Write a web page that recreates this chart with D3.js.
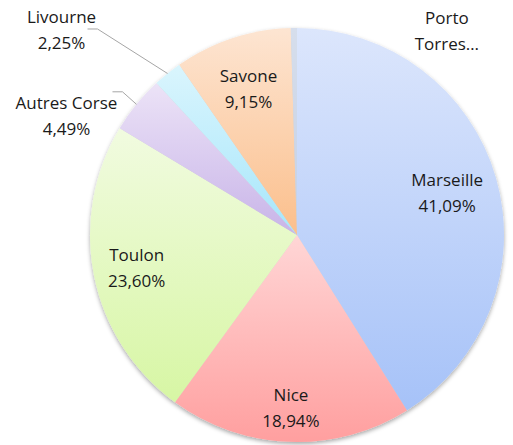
<!DOCTYPE html>
<html>
<head>
<meta charset="utf-8">
<script src="https://cdn.jsdelivr.net/npm/d3@7"></script>
<style>
  body { margin: 0; background: #fff; }
  svg text { font-family: "Open Sans", "Noto Sans", sans-serif; fill: #1a1a1a; }
</style>
</head>
<body>
<svg width="513" height="445"></svg>
<script>
// données (sens horaire depuis midi)
const ports = ["Marseille", "Nice", "Toulon", "Autres Corse", "Livourne", "Savone", "Porto Torres..."];
const parts = [41.09, 18.94, 23.60, 4.49, 2.25, 9.15, 0.48];
const shownLabels = ["41,09%", "18,94%", "23,60%", "4,49%", "2,25%", "9,15%", ""];
const colorsTop = ["#dce6fc", "#ffd6d6", "#f1fbe0", "#ece3f7", "#daf5fd", "#fde5d2", "#d6deec"];
const colorsBottom = ["#a6c2f8", "#ff9f9f", "#d7f6a4", "#c8b4e8", "#a6e6fb", "#fbbf8c", "#c5d0e4"];

const svg = d3.select("svg");
const cx = 297, cy = 235, R = 207;

const defs = svg.append("defs");
const shadow = defs.append("filter").attr("id", "shadow")
  .attr("x", "-10%").attr("y", "-10%").attr("width", "120%").attr("height", "125%");
shadow.append("feDropShadow")
  .attr("dx", 0).attr("dy", 2).attr("stdDeviation", 2)
  .attr("flood-color", "#000").attr("flood-opacity", 0.35);

ports.forEach((p, i) => {
  const g = defs.append("linearGradient").attr("id", "grad" + i)
    .attr("x1", 0).attr("y1", 0).attr("x2", 0).attr("y2", 1);
  g.append("stop").attr("offset", "0%").attr("stop-color", colorsTop[i]);
  g.append("stop").attr("offset", "100%").attr("stop-color", colorsBottom[i]);
});

const pie = d3.pie().sort(null).value((d) => d);
const arcs = pie(parts);
const arc = d3.arc().innerRadius(0).outerRadius(R);

const chart = svg.append("g").attr("transform", `translate(${cx},${cy})`);

chart.append("g").attr("filter", "url(#shadow)")
  .selectAll("path")
  .data(arcs)
  .enter()
  .append("path")
  .attr("d", arc)
  .attr("fill", (d, i) => `url(#grad${i})`);

// étiquettes intérieures (rayon relatif, façon "ajustement optimal")
const inside = { 0: 0.755, 1: 0.83, 2: 0.79, 5: 0.75 };
// étiquettes extérieures : décalage depuis le bord de la part, départ du trait
const outside = {
  3: { dx: -70, dy: 11, line: [46, -23.5] },
  4: { dx: -106, dy: -45, line: [26, 0.5] },
  6: { dx: 153, dy: 2, line: null },
};

const labels = chart.append("g");
arcs.forEach((d, i) => {
  const mid = (d.startAngle + d.endAngle) / 2;
  let x, y;
  if (inside[i] !== undefined) {
    const r = R * inside[i];
    x = r * Math.sin(mid);
    y = -r * Math.cos(mid);
  } else {
    const ex = R * Math.sin(mid), ey = -R * Math.cos(mid);
    const o = outside[i];
    x = ex + o.dx;
    y = ey + o.dy;
    if (o.line) {
      const hx = x + o.line[0];
      const hy = y + o.line[1];
      labels.append("path")
        .attr("d", d3.line()([[hx, hy], [hx + 10, hy], [ex, ey]]))
        .attr("fill", "none")
        .attr("stroke", "#a6a6a6")
        .attr("stroke-width", 1);
    }
  }
  const t = labels.append("text")
    .attr("text-anchor", "middle")
    .attr("font-size", 17);
  const lines = i === 6 ? ["Porto", "Torres…"] : [ports[i], shownLabels[i]];
  lines.forEach((s, k) => {
    t.append("tspan")
      .attr("x", x)
      .attr("y", y + (k === 0 ? -6 : 20))
      .text(s);
  });
});
</script>
</body>
</html>
